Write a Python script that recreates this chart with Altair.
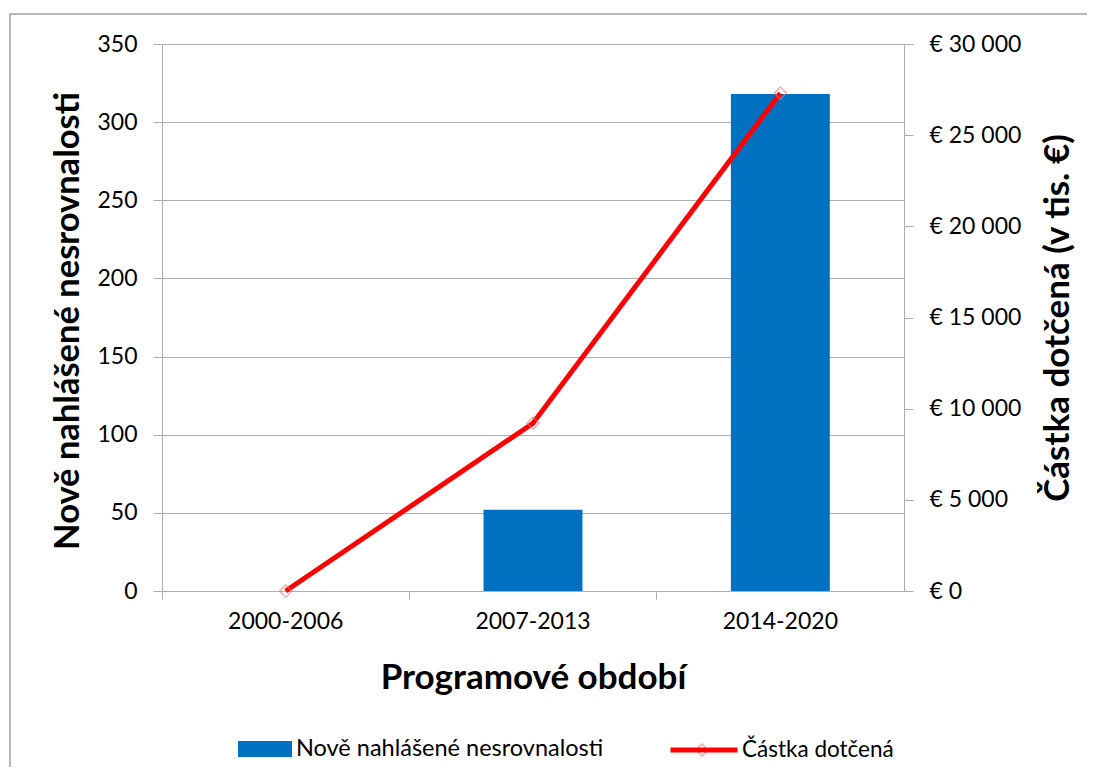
import altair as alt
import pandas as pd

periods = ["2000-2006", "2007-2013", "2014-2020"]
irregularities = [0, 52, 318]
amounts = [0, 9200, 27300]
bar_label = "Nově nahlášené nesrovnalosti"
line_label = "Částka dotčená"

df = pd.DataFrame({
    "period": periods,
    "count": irregularities,
    "amount": amounts,
    "sbar": [bar_label] * 3,
    "sline": [line_label] * 3,
})

FONT = "Lato"
GRAY = "#ADADAD"
W, H = 742, 547

base = alt.Chart(df)

x_enc = alt.X(
    "period:N",
    sort=periods,
    scale=alt.Scale(paddingInner=0, paddingOuter=0),
    axis=alt.Axis(
        title="Programové období",
        labelAngle=0,
        labelFontSize=23,
        labelColor="#000000",
        labelPadding=11,
        tickSize=8,
        tickColor=GRAY,
        domainColor=GRAY,
        bandPosition=0,
        titleFontSize=35,
        titleFontWeight="bold",
        titleColor="#000000",
        titleX=W / 2,
        titleY=86,
        titleBaseline="middle",
        titleAlign="center",
    ),
)

bars = base.mark_bar(width={"band": 0.4}).encode(
    x=x_enc,
    y=alt.Y(
        "count:Q",
        scale=alt.Scale(domain=[0, 350], nice=False),
        axis=alt.Axis(
            title="Nově nahlášené nesrovnalosti",
            values=list(range(0, 351, 50)),
            grid=True,
            gridColor=GRAY,
            domainColor=GRAY,
            tickColor=GRAY,
            tickSize=9,
            labelPadding=16,
            labelFontSize=23,
            labelColor="#000000",
            titleFontSize=34.5,
            titleFontWeight="bold",
            titleColor="#000000",
            titleX=-94,
            titleY=H / 2 + 3,
            titleAngle=270,
            titleBaseline="middle",
            titleAlign="center",
        ),
    ),
    fill=alt.Fill(
        "sbar:N",
        scale=alt.Scale(domain=[bar_label], range=["#0070C0"]),
        legend=alt.Legend(
            title=None,
            orient="none",
            legendX=76,
            legendY=678,
            symbolType="M-1,-0.3H1V0.3H-1Z",
            symbolSize=2916,
            symbolStrokeWidth=0,
            labelFontSize=23.5,
            labelOffset=4,
            labelLimit=0,
            labelColor="#000000",
            labelFont=FONT,
        ),
    ),
)

right_axis = alt.Axis(
    orient="right",
    title="Částka dotčená (v tis. €)",
    values=list(range(0, 30001, 5000)),
    grid=False,
    domainColor=GRAY,
    tickColor=GRAY,
    tickSize=9,
    labelPadding=16,
    labelFontSize=23,
    labelColor="#000000",
    labelExpr="datum.value == 0 ? '€ 0' : '€ ' + floor(datum.value / 1000) + ' 000'",
    titleFontSize=35,
    titleFontWeight="bold",
    titleColor="#000000",
    titleX=153,
    titleY=H / 2,
    titleAngle=270,
    titleBaseline="middle",
    titleAlign="center",
)

y2 = alt.Y("amount:Q", scale=alt.Scale(domain=[0, 30000], nice=False), axis=right_axis)

line = base.mark_line(strokeWidth=5).encode(
    x=alt.X("period:N", sort=periods),
    y=y2,
    stroke=alt.Stroke(
        "sline:N",
        scale=alt.Scale(domain=[line_label], range=["#FF0000"]),
        legend=alt.Legend(
            title=None,
            orient="none",
            legendX=506,
            legendY=670,
            symbolType="stroke",
            symbolSize=4489,
            symbolStrokeWidth=5,
            labelFontSize=22.5,
            labelOffset=2,
            labelLimit=0,
            labelColor="#000000",
            labelFont=FONT,
        ),
    ),
)

pts = base.mark_point(filled=False, size=150, strokeWidth=1.2,
                      color="#FF7070").encode(
    x=alt.X("period:N", sort=periods),
    y=y2,
    shape=alt.Shape(
        "sline:N",
        scale=alt.Scale(domain=[line_label], range=["diamond"]),
        legend=alt.Legend(
            title=None,
            orient="none",
            legendX=533,
            legendY=699,
            symbolSize=150,
            symbolFillColor="transparent",
            symbolStrokeColor="#FF7070",
            symbolStrokeWidth=1.2,
            labelExpr="''",
            labelFontSize=1,
            labelOffset=0,
        ),
    ),
)

frame = alt.Chart(alt.Data(values=[{}])).mark_rect(
    fill=None, stroke="#A0A0A0", strokeWidth=1.5
).encode(
    x=alt.value(-152), x2=alt.value(1200), y=alt.value(-30), y2=alt.value(1200)
)

right = alt.layer(line, pts)

chart = (
    alt.layer(frame, bars, right)
    .resolve_scale(y="independent", fill="independent", stroke="independent")
    .properties(
        width=W,
        height=H,
        padding={"left": 154, "top": 36, "right": 183, "bottom": 176},
        autosize=alt.AutoSizeParams(type="none"),
        background="white",
    )
    .configure_view(stroke=None)
    .configure(font=FONT)
)

chart.save("out.html", embed_options={"renderer": "svg", "actions": False})
